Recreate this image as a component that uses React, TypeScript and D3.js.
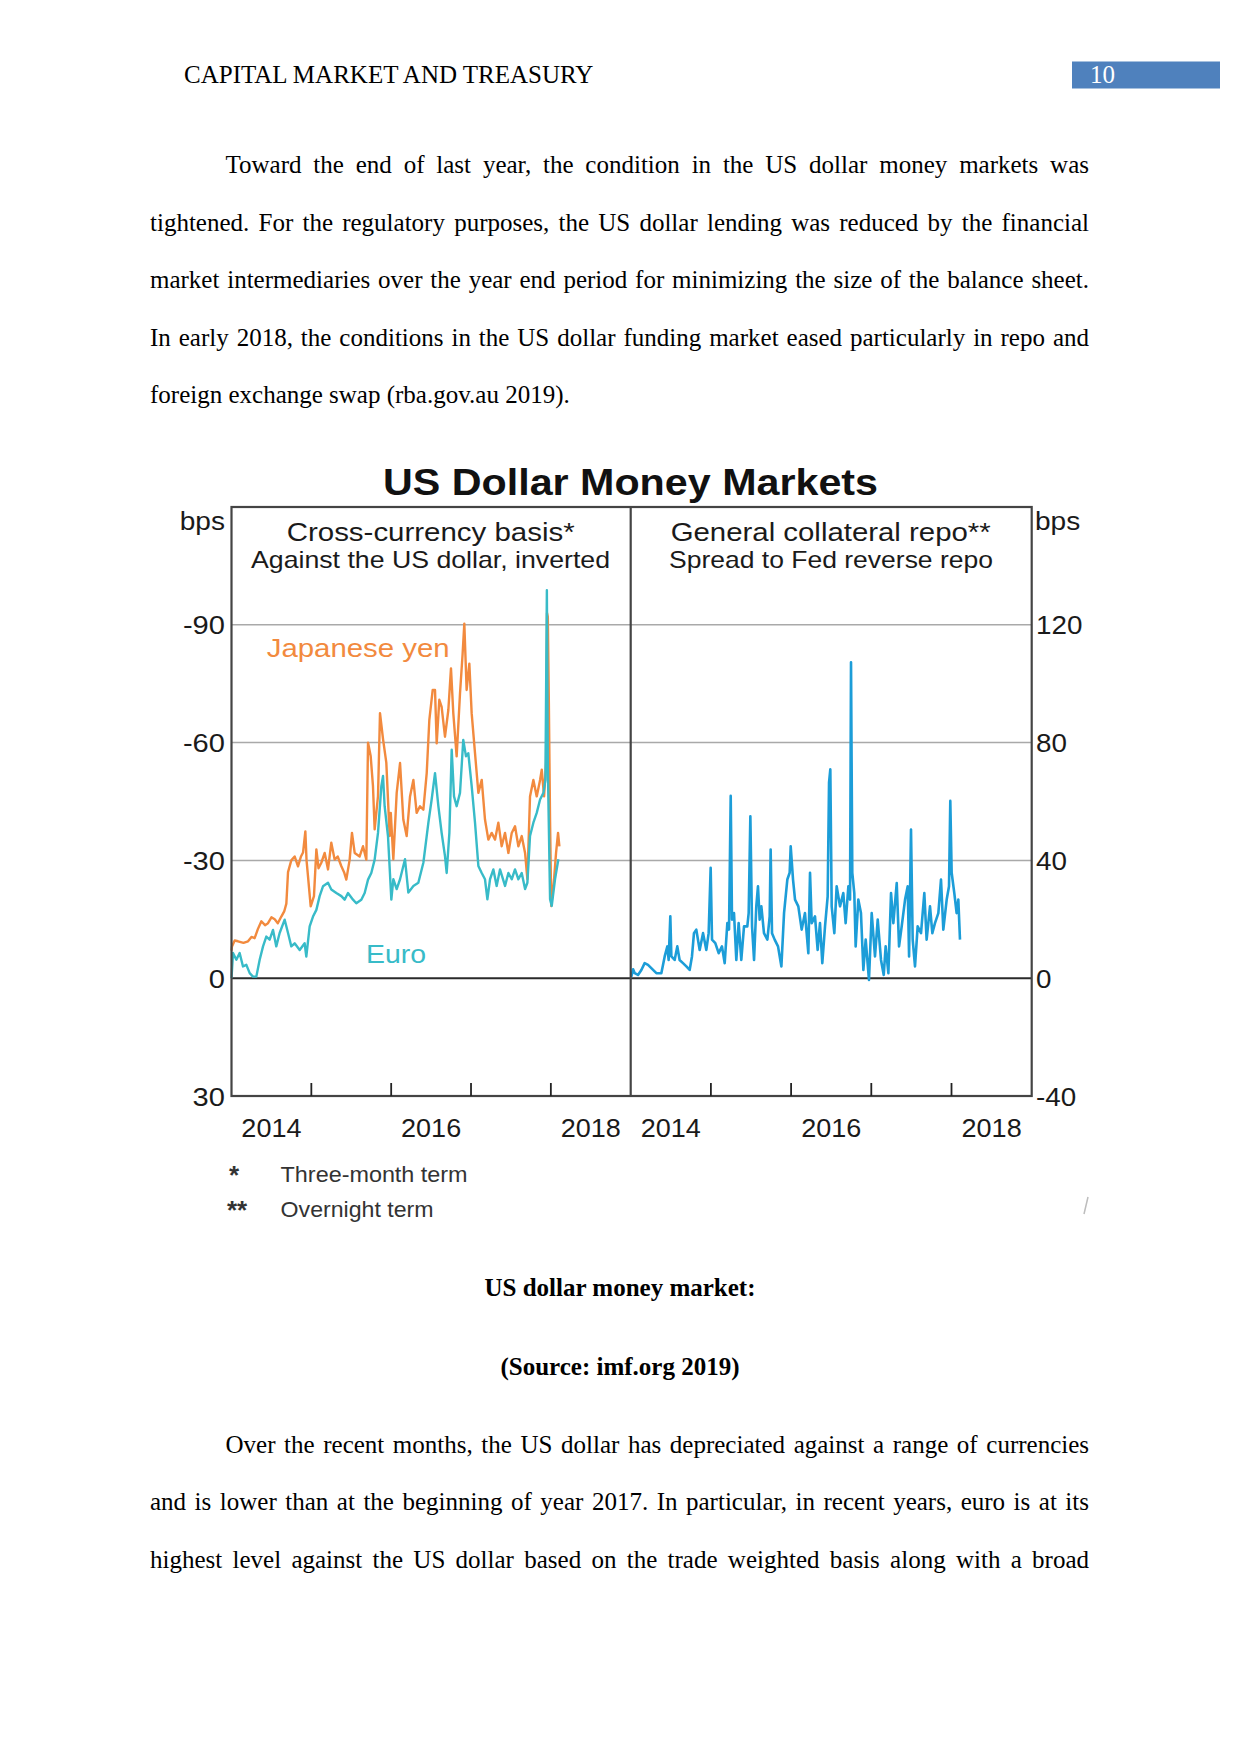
import React, { useLayoutEffect, useRef } from "react";
import * as d3 from "d3";

// ---------------- DATA ----------------
// Cross-currency basis (bps), decimal year, value (negative = up)
const yenSeries: [number, number][] = [
  [2014.0, -7], [2014.006, -8.1], [2014.04, -9.6], [2014.081, -9.4], [2014.15, -9.0], [2014.207, -9.4],
  [2014.25, -10.5], [2014.29, -10.2], [2014.33, -12.5], [2014.374, -14.5], [2014.42, -13.5], [2014.457, -14],
  [2014.5, -15.5], [2014.541, -15], [2014.58, -14], [2014.624, -15.7], [2014.66, -17], [2014.687, -19],
  [2014.708, -27], [2014.749, -30], [2014.791, -31], [2014.833, -28.5], [2014.87, -31], [2014.896, -32],
  [2014.925, -37.4], [2014.94, -30], [2014.958, -26], [2014.992, -18.3], [2015.033, -20.9], [2015.063, -32.8],
  [2015.09, -28], [2015.125, -29.4], [2015.167, -31.9], [2015.209, -27.7], [2015.25, -34.5], [2015.292, -30.2],
  [2015.33, -31], [2015.376, -28.5], [2015.41, -27], [2015.438, -25.1], [2015.48, -30.2], [2015.509, -37],
  [2015.543, -31.9], [2015.605, -31], [2015.647, -33.6], [2015.689, -30.2], [2015.71, -60], [2015.743, -56.6],
  [2015.772, -48.9], [2015.793, -37.9], [2015.835, -46.4], [2015.86, -67.5], [2015.898, -60.9], [2015.939, -54.9],
  [2015.981, -36.2], [2015.995, -42.1], [2016.027, -30.3], [2016.069, -47.2], [2016.111, -54.8], [2016.152, -40.4],
  [2016.194, -36.2], [2016.236, -46.3], [2016.278, -50.5], [2016.319, -42.1], [2016.361, -43.8], [2016.403, -42.9],
  [2016.445, -52.2], [2016.478, -65.8], [2016.52, -73.4], [2016.549, -73.4], [2016.57, -59.8], [2016.603, -70.9],
  [2016.632, -69.1], [2016.674, -61.5], [2016.716, -68.3], [2016.749, -78.9], [2016.778, -67.5], [2016.82, -56.5],
  [2016.862, -72.5], [2016.895, -82.7], [2016.916, -90.3], [2016.945, -73.4], [2016.979, -80.1], [2017.008, -67.5],
  [2017.05, -57.3], [2017.092, -47.2], [2017.134, -50.5], [2017.175, -40.4], [2017.217, -35.3], [2017.259, -37],
  [2017.301, -35.3], [2017.342, -39.6], [2017.384, -33.6], [2017.426, -37], [2017.468, -31.9], [2017.51, -37],
  [2017.551, -38.7], [2017.593, -33.6], [2017.635, -36.2], [2017.677, -31.9], [2017.706, -25.2], [2017.739, -46.3],
  [2017.781, -50.5], [2017.823, -46.3], [2017.865, -50.5], [2017.886, -53.1], [2017.915, -46.3], [2017.94, -55],
  [2017.952, -93], [2017.962, -92], [2017.975, -70], [2017.99, -40], [2018.005, -18.4], [2018.04, -25.2],
  [2018.065, -31.9], [2018.09, -37], [2018.107, -33.6],
];

const euroSeries: [number, number][] = [
  [2014.0, 0], [2014.019, -6.4], [2014.061, -4.7], [2014.102, -6.4], [2014.144, -3], [2014.186, -3.4],
  [2014.228, -1.3], [2014.269, -0.4], [2014.311, -0.4], [2014.353, -4.7], [2014.395, -8.1], [2014.436, -10.6],
  [2014.478, -9.8], [2014.52, -12.3], [2014.561, -8.1], [2014.603, -11.5], [2014.666, -14.9], [2014.708, -11.5],
  [2014.749, -8.1], [2014.791, -8.9], [2014.854, -7.2], [2014.916, -8.9], [2014.937, -5.5], [2014.979, -13.2],
  [2015.021, -15.7], [2015.063, -17.4], [2015.104, -20.9], [2015.146, -23.4], [2015.209, -24.3], [2015.25, -22.6],
  [2015.313, -21.7], [2015.376, -20.9], [2015.417, -20], [2015.459, -21.7], [2015.522, -20], [2015.563, -19.1],
  [2015.626, -20], [2015.668, -21.7], [2015.71, -25.1], [2015.751, -26.8], [2015.793, -30.2], [2015.835, -37],
  [2015.877, -48.9], [2015.898, -51.5], [2015.918, -43.8], [2015.96, -36.2], [2016.002, -20], [2016.027, -25.2],
  [2016.069, -22.7], [2016.111, -25.2], [2016.173, -30.3], [2016.215, -21.8], [2016.278, -23.5], [2016.34, -24.3],
  [2016.403, -29.4], [2016.466, -39.6], [2016.507, -45.5], [2016.549, -52.2], [2016.591, -43.8], [2016.632, -37],
  [2016.674, -31.1], [2016.695, -26.8], [2016.729, -37], [2016.758, -58.2], [2016.787, -46.3], [2016.82, -43.8],
  [2016.862, -47.2], [2016.903, -60.7], [2016.937, -56.5], [2016.966, -57.3], [2017.008, -49], [2017.05, -39.6],
  [2017.092, -28.6], [2017.134, -26.8], [2017.175, -25.2], [2017.205, -20.1], [2017.238, -25.2], [2017.28, -27.7],
  [2017.321, -23.5], [2017.363, -27.7], [2017.426, -23.5], [2017.468, -26.8], [2017.51, -25.2], [2017.551, -27.7],
  [2017.593, -25.2], [2017.635, -26.8], [2017.677, -22.7], [2017.706, -24.3], [2017.739, -36.2], [2017.781, -39.6],
  [2017.823, -42.1], [2017.865, -45.5], [2017.907, -47.2], [2017.932, -50.5], [2017.95, -98.8], [2017.962, -53.9],
  [2017.99, -20.1], [2018.011, -18.4], [2018.052, -25.2], [2018.094, -30.3],
];

// General collateral repo spread (bps)
const repoSeries: [number, number][] = [
  [2014.0, 0.5], [2014.008, 0.6], [2014.03, 3], [2014.05, 1.7], [2014.091, 1.1], [2014.133, 2.8], [2014.174, 5.1],
  [2014.216, 4.5], [2014.257, 3.4], [2014.32, 1.7], [2014.382, 1.7], [2014.424, 7.4], [2014.457, 10.8],
  [2014.473, 6.2], [2014.494, 21], [2014.507, 7.4], [2014.548, 6.2], [2014.581, 10.8], [2014.61, 6.2],
  [2014.652, 5.1], [2014.694, 4], [2014.735, 2.8], [2014.764, 7.4], [2014.789, 15.3], [2014.818, 16.5],
  [2014.86, 9.6], [2014.902, 15.3], [2014.943, 9.6], [2014.972, 15.3], [2014.997, 37.5], [2015.014, 13.1],
  [2015.055, 11.9], [2015.097, 8.5], [2015.138, 10.8], [2015.172, 5.1], [2015.205, 18.7], [2015.226, 16.5],
  [2015.247, 61.9], [2015.263, 19.9], [2015.288, 22.1], [2015.317, 6.2], [2015.346, 18.7], [2015.379, 6.2],
  [2015.413, 17.6], [2015.454, 17.6], [2015.471, 22.1], [2015.492, 55], [2015.513, 17.6], [2015.538, 6.2],
  [2015.566, 24.4], [2015.587, 31.2], [2015.608, 19.9], [2015.629, 24.4], [2015.662, 15.3], [2015.704, 13.1],
  [2015.733, 21], [2015.745, 43.7], [2015.762, 15.3], [2015.795, 13.1], [2015.837, 10.8], [2015.879, 4],
  [2015.912, 22.1], [2015.953, 33.5], [2015.982, 35.8], [2015.995, 44.8], [2016.024, 33.5], [2016.049, 26.7],
  [2016.09, 24.4], [2016.132, 16.5], [2016.173, 22.1], [2016.215, 8.5], [2016.236, 35.8], [2016.257, 18.7],
  [2016.298, 21], [2016.331, 9.6], [2016.36, 18.7], [2016.389, 5.1], [2016.423, 17.6], [2016.456, 27.8],
  [2016.473, 66.4], [2016.489, 70.9], [2016.506, 24.4], [2016.539, 15.3], [2016.568, 31.2], [2016.61, 24.4],
  [2016.651, 28.9], [2016.68, 18.7], [2016.714, 31.2], [2016.735, 26.7], [2016.747, 107.3], [2016.763, 35.8],
  [2016.788, 28.9], [2016.805, 10.8], [2016.838, 26.7], [2016.871, 22.1], [2016.901, 2.8], [2016.93, 13.1],
  [2016.971, -0.6], [2017.005, 22.1], [2017.046, 7.4], [2017.08, 19.9], [2017.121, 6.2], [2017.155, 1.1],
  [2017.179, 10.8], [2017.213, 1.7], [2017.246, 28.9], [2017.275, 18.7], [2017.317, 32.3], [2017.346, 10.8],
  [2017.379, 17.6], [2017.421, 26.7], [2017.454, 31.2], [2017.471, 7.4], [2017.495, 50.5], [2017.516, 13.1],
  [2017.545, 4], [2017.578, 17.6], [2017.62, 15.3], [2017.661, 28.9], [2017.69, 13.1], [2017.732, 24.4],
  [2017.761, 15.3], [2017.794, 18.7], [2017.836, 22.1], [2017.869, 33.5], [2017.898, 16.5], [2017.94, 26.7],
  [2017.969, 31.2], [2017.985, 60.2], [2018.002, 35.8], [2018.035, 28.9], [2018.064, 22.1], [2018.085, 26.7],
  [2018.106, 13.1],
];

const leftTicks = [-90, -60, -30, 0, 30];
const rightTicks = [120, 80, 40, 0, -40];
const yearLabels = [2014, 2016, 2018];
const yearTicks = [2015, 2016, 2017, 2018];

const para1 = [
  "Toward the end of last year, the condition in the US dollar money markets was",
  "tightened. For the regulatory purposes, the US dollar lending was reduced by the financial",
  "market intermediaries over the year end period for minimizing the size of the balance sheet.",
  "In early 2018, the conditions in the US dollar funding market eased particularly in repo and",
  "foreign exchange swap (rba.gov.au 2019).",
];
const para2 = [
  "Over the recent months, the US dollar has depreciated against a range of currencies",
  "and is lower than at the beginning of year 2017. In particular, in recent years, euro is at its",
  "highest level against the US dollar based on the trade weighted basis along with a broad",
];

// ---------------- STYLE ----------------
const SERIF = "'Liberation Serif', 'Times New Roman', serif";
const SANS = "'Liberation Sans', Arial, sans-serif";
const ORANGE = "#F28A3E";
const TEAL = "#38BBC8";
const BLUE = "#1C9DD8";

function JLine({ x, y, right, text, justify }: { x: number; y: number; right: number; text: string; justify: boolean }) {
  const ref = useRef<SVGTextElement>(null);
  useLayoutEffect(() => {
    const el = ref.current;
    if (!el || !justify) return;
    el.setAttribute("word-spacing", "0");
    const w = el.getComputedTextLength();
    const n = (text.match(/ /g) || []).length;
    if (n > 0) el.setAttribute("word-spacing", String((right - x - w) / n));
  }, [text, x, right, justify]);
  return (
    <text ref={ref} x={x} y={y} fontFamily={SERIF} fontSize={25} fill="#000" style={{ whiteSpace: "pre" }}>
      {text}
    </text>
  );
}

function ST({ x, y, children, sx = 1.08, anchor = "start", size = 26, fill = "#1a1a1a" }: any) {
  return (
    <text transform={`translate(${x},${y}) scale(${sx},1)`} textAnchor={anchor} fontSize={size} fill={fill} fontFamily={SANS}>
      {children}
    </text>
  );
}

export default function App() {
  const L = 231.5, M = 630.7, R = 1031.7, T = 507, B = 1096;
  const xL = d3.scaleLinear().domain([2014, 2019]).range([L, M]);
  const xR = d3.scaleLinear().domain([2014, 2019]).range([M, R]);
  const yL = d3.scaleLinear().domain([-120, 30]).range([T, B]);
  const yR = d3.scaleLinear().domain([160, -40]).range([T, B]);

  const lineL = d3.line<[number, number]>().x((d) => xL(d[0])).y((d) => yL(d[1]));
  const lineR = d3.line<[number, number]>().x((d) => xR(d[0])).y((d) => yR(d[1]));

  return (
    <svg width={1241} height={1754} style={{ position: "absolute", left: 0, top: 0, background: "#fff" }}>
      <rect x={0} y={0} width={1241} height={1754} fill="#fff" />
      {/* header */}
      <text x={184} y={83} fontFamily={SERIF} fontSize={25} fill="#000">CAPITAL MARKET AND TREASURY</text>
      <rect x={1072} y={61.5} width={148} height={27} fill="#4F81BD" />
      <text x={1090} y={83} fontFamily={SERIF} fontSize={25} fill="#fff">10</text>

      {/* paragraph 1 */}
      {para1.map((t, i) => (
        <JLine key={"p1" + i} x={i === 0 ? 225.5 : 150} y={173.3 + i * 57.4} right={1089} text={t} justify={i < para1.length - 1} />
      ))}

      {/* chart title */}
      <text x={383} y={495} fontFamily={SANS} fontSize={36} fontWeight="bold" fill="#111" textLength={495} lengthAdjust="spacingAndGlyphs">
        US Dollar Money Markets
      </text>

      {/* gridlines */}
      {leftTicks.filter((v) => v < 0).map((v) => (
        <line key={"g" + v} x1={L} x2={R} y1={yL(v)} y2={yL(v)} stroke="#a9a9a9" strokeWidth={1.5} />
      ))}
      <line x1={L} x2={R} y1={yL(0)} y2={yL(0)} stroke="#2a2a2a" strokeWidth={2} />

      {/* series */}
      <path d={lineL(yenSeries) || ""} fill="none" stroke={ORANGE} strokeWidth={2.4} strokeLinejoin="round" />
      <path d={lineL(euroSeries) || ""} fill="none" stroke={TEAL} strokeWidth={2.4} strokeLinejoin="round" />
      <path d={lineR(repoSeries) || ""} fill="none" stroke={BLUE} strokeWidth={2.6} strokeLinejoin="round" />

      {/* frame */}
      <rect x={L} y={T} width={R - L} height={B - T} fill="none" stroke="#444" strokeWidth={2.2} />
      <line x1={M} x2={M} y1={T} y2={B} stroke="#444" strokeWidth={2.2} />

      {/* ticks */}
      {yearTicks.map((yr) => (
        <g key={"t" + yr}>
          <line x1={xL(yr)} x2={xL(yr)} y1={B} y2={B - 13} stroke="#222" strokeWidth={1.8} />
          <line x1={xR(yr)} x2={xR(yr)} y1={B} y2={B - 13} stroke="#222" strokeWidth={1.8} />
        </g>
      ))}

      {/* panel titles */}
      <text x={286.7} y={540.7} fontFamily={SANS} fontSize={26} fill="#1a1a1a" textLength={288} lengthAdjust="spacingAndGlyphs">Cross-currency basis*</text>
      <text x={251} y={567.7} fontFamily={SANS} fontSize={24} fill="#1a1a1a" textLength={359} lengthAdjust="spacingAndGlyphs">Against the US dollar, inverted</text>
      <text x={670.7} y={540.7} fontFamily={SANS} fontSize={26} fill="#1a1a1a" textLength={320} lengthAdjust="spacingAndGlyphs">General collateral repo**</text>
      <text x={669} y={567.7} fontFamily={SANS} fontSize={24} fill="#1a1a1a" textLength={324} lengthAdjust="spacingAndGlyphs">Spread to Fed reverse repo</text>

      {/* series labels */}
      <text x={266.7} y={656.7} fontFamily={SANS} fontSize={26} fill={ORANGE} textLength={183} lengthAdjust="spacingAndGlyphs">Japanese yen</text>
      <text x={366} y={962.7} fontFamily={SANS} fontSize={26} fill={TEAL} textLength={60} lengthAdjust="spacingAndGlyphs">Euro</text>

      {/* axis labels */}
      <ST x={225} y={530} anchor="end">bps</ST>
      <ST x={1035} y={530}>bps</ST>
      {leftTicks.map((v) => (
        <ST key={"lt" + v} x={225} y={yL(v) + 9.5} anchor="end" sx={1.12}>{String(v)}</ST>
      ))}
      {rightTicks.map((v) => (
        <ST key={"rt" + v} x={1036} y={yR(v) + 9.5} sx={1.07}>{String(v)}</ST>
      ))}
      {yearLabels.map((yr) => (
        <g key={"yl" + yr}>
          <ST x={xL(yr + 0.5)} y={1137} anchor="middle" sx={1.04}>{String(yr)}</ST>
          <ST x={xR(yr + 0.5)} y={1137} anchor="middle" sx={1.04}>{String(yr)}</ST>
        </g>
      ))}

      {/* footnotes */}
      <text x={229} y={1184} fontFamily={SANS} fontSize={26} fontWeight="bold" fill="#333">*</text>
      <text x={280.6} y={1181.7} fontFamily={SANS} fontSize={22} fill="#333" textLength={187} lengthAdjust="spacingAndGlyphs">Three-month term</text>
      <text x={227} y={1219} fontFamily={SANS} fontSize={26} fontWeight="bold" fill="#333">**</text>
      <text x={280.6} y={1216.7} fontFamily={SANS} fontSize={22} fill="#333" textLength={153} lengthAdjust="spacingAndGlyphs">Overnight term</text>
      <line x1={1088} y1={1197} x2={1084} y2={1214} stroke="#bdbdbd" strokeWidth={1.5} />

      {/* caption */}
      <text x={620} y={1296} textAnchor="middle" fontFamily={SERIF} fontSize={25} fontWeight="bold" fill="#000">US dollar money market:</text>
      <text x={620} y={1375} textAnchor="middle" fontFamily={SERIF} fontSize={25} fontWeight="bold" fill="#000">(Source: imf.org 2019)</text>

      {/* paragraph 2 */}
      {para2.map((t, i) => (
        <JLine key={"p2" + i} x={i === 0 ? 225.5 : 150} y={1453 + i * 57.4} right={1089} text={t} justify={true} />
      ))}
    </svg>
  );
}
